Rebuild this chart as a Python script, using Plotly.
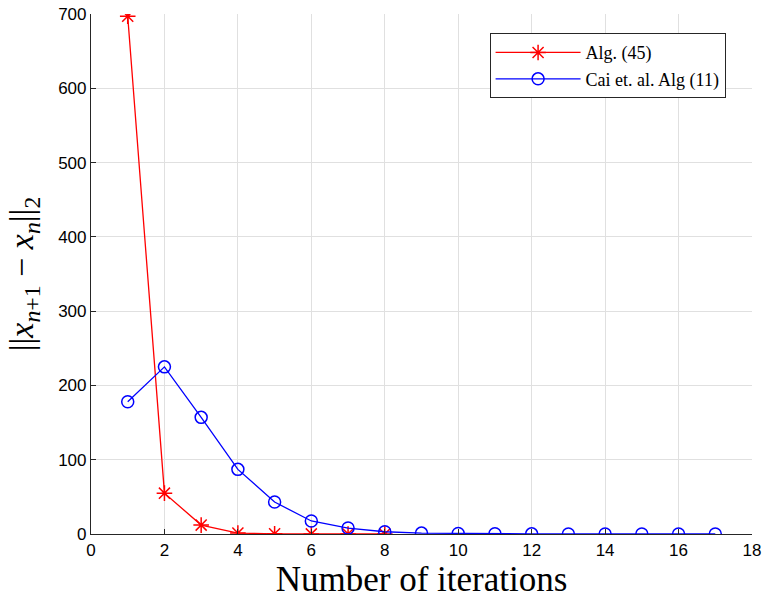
import plotly.graph_objects as go

x_alg = [1, 2, 3, 4, 5, 6, 7, 8]
y_alg = [697, 55, 12, 1.2, 0.3, 0.1, 0.05, 0.02]
x_cai = list(range(1, 18))
y_cai = [178, 225, 157, 87, 43, 17.5, 8, 3, 1.2, 0.6, 0.3, 0.2, 0.1, 0.08, 0.05, 0.03, 0.02]

x_ticks = list(range(0, 19, 2))
y_ticks = list(range(0, 701, 100))

serif = "Liberation Serif, Times New Roman, serif"
sans = "Liberation Sans, Arial, sans-serif"

fig = go.Figure()
fig.add_trace(go.Scatter(
    x=x_alg, y=y_alg, mode="lines+markers", name="Alg. (45)",
    line=dict(color="#ff0000", width=1.3),
    marker=dict(symbol="asterisk-open", size=13, color="#ff0000", line=dict(color="#ff0000", width=1.5)),
))
fig.add_trace(go.Scatter(
    x=x_cai, y=y_cai, mode="lines+markers", name="Cai et. al. Alg (11)",
    line=dict(color="#0000ff", width=1.3),
    marker=dict(symbol="circle-open", size=12, color="#0000ff", line=dict(color="#0000ff", width=1.5)),
))

fig.update_layout(
    width=765, height=601,
    margin=dict(l=91, r=13, t=14, b=67),
    plot_bgcolor="white", paper_bgcolor="white",
    showlegend=True,
    legend=dict(
        x=0.603, y=0.963, xanchor="left", yanchor="top",
        bgcolor="white", bordercolor="#262626", borderwidth=1,
        font=dict(family=serif, size=18, color="black"),
        tracegroupgap=0, itemwidth=85,
    ),
    xaxis=dict(
        range=[0, 18], tickvals=x_ticks, ticktext=[str(v) for v in x_ticks],
        showgrid=True, gridcolor="#e0e0e0", gridwidth=1,
        showline=True, linecolor="#262626", linewidth=1.2, mirror=False,
        ticks="inside", ticklen=5, tickcolor="#262626",
        tickfont=dict(family=sans, size=17, color="black"),
        zeroline=False, automargin=False,
        title=dict(text="Number of iterations", font=dict(family=serif, size=35, color="black"), standoff=4),
    ),
    yaxis=dict(
        range=[0, 700], tickvals=y_ticks, ticktext=[str(v) for v in y_ticks],
        showgrid=True, gridcolor="#e0e0e0", gridwidth=1,
        showline=True, linecolor="#262626", linewidth=1.2, mirror=False,
        ticks="inside", ticklen=5, tickcolor="#262626",
        tickfont=dict(family=sans, size=17, color="black"),
        zeroline=False, automargin=False,
        title=dict(text="||<i>x</i><sub><i>n</i>+1</sub> − <i>x</i><sub><i>n</i></sub>||<sub>2</sub>",
                   font=dict(family=serif, size=34, color="black"), standoff=14),
    ),
)

fig.write_html("out.html")
